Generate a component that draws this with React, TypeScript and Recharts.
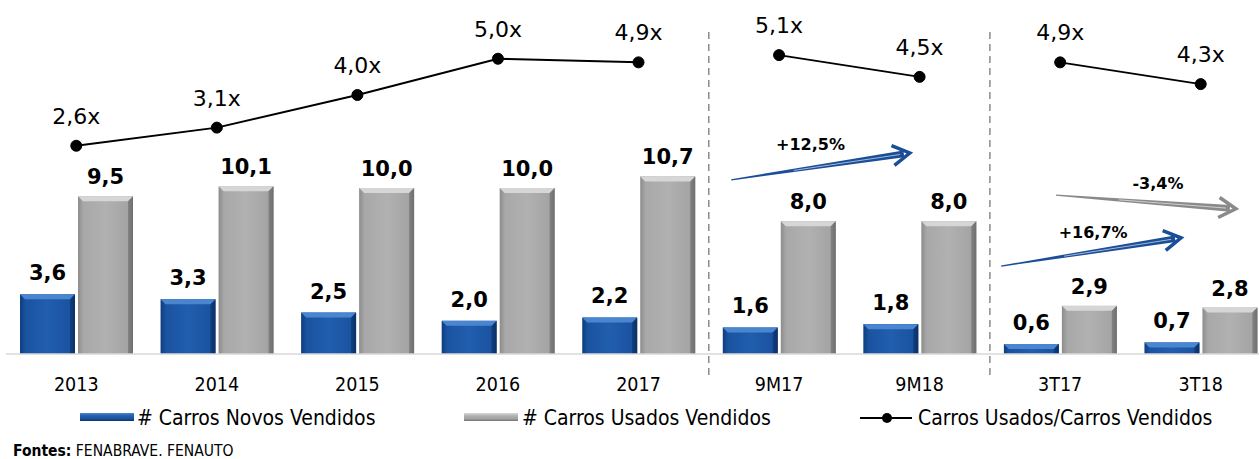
import React from 'react';
import { ComposedChart, Bar, Line, XAxis, YAxis, LabelList, ReferenceLine } from 'recharts';

const periodos = ['2013', '2014', '2015', '2016', '2017', '9M17', '9M18', '3T17', '3T18'];
const grupos = ['ano', 'ano', 'ano', 'ano', 'ano', '9m', '9m', '3t', '3t'];
const carrosNovos = [3.6, 3.3, 2.5, 2.0, 2.2, 1.6, 1.8, 0.6, 0.7];
const carrosUsados = [9.5, 10.1, 10.0, 10.0, 10.7, 8.0, 8.0, 2.9, 2.8];
const usadosPorNovos = [2.6, 3.1, 4.0, 5.0, 4.9, 5.1, 4.5, 4.9, 4.3];

// trend arrows, in units of the helper x axis (0..9) and the ratio axis
const setas = [
  { texto: '+12,5%', cor: 'azul', x1: 5.16, y1: 1.66, x2: 6.43, y2: 2.4, dx: -10, dy: -22 },
  { texto: '-3,4%', cor: 'cinza', x1: 7.47, y1: 1.24, x2: 8.75, y2: 0.86, dx: 12, dy: -19 },
  { texto: '+16,7%', cor: 'azul', x1: 7.08, y1: -0.72, x2: 8.36, y2: 0.06, dx: 2, dy: -20 },
];
const separadores = [5, 7];

const FONT = '"DejaVu Sans Condensed", "DejaVu Sans", sans-serif';
const FONT_WIDE = '"DejaVu Sans", sans-serif';

const data = periodos.map((periodo, i) => ({
  periodo,
  pos: i + 0.5,
  novos: carrosNovos[i],
  usados: carrosUsados[i],
  razaoAno: grupos[i] === 'ano' ? usadosPorNovos[i] : null,
  razao9m: grupos[i] === '9m' ? usadosPorNovos[i] : null,
  razao3t: grupos[i] === '3t' ? usadosPorNovos[i] : null,
}));

const fmt = (v: number) => v.toFixed(1).replace('.', ',');

const PALETA: { [k: string]: { top: string; grad: string; dark: string } } = {
  novos: { top: '#4a86cf', grad: 'url(#gradNovos)', dark: '#0a2f66' },
  usados: { top: '#d6d6d6', grad: 'url(#gradUsados)', dark: '#6a6a6a' },
};

const BevelBar = (props: any) => {
  const { x, y, width, height, serie } = props;
  if (!height || height <= 0) return null;
  const p = PALETA[serie];
  const b = Math.min(5, height / 2);
  return (
    <g>
      <rect x={x} y={y} width={width} height={height} fill={p.grad} />
      <polygon
        points={`${x},${y} ${x + width},${y} ${x + width - b},${y + b} ${x + b},${y + b}`}
        fill={p.top}
      />
      <polygon
        points={`${x + width},${y} ${x + width},${y + height} ${x + width - b},${y + height} ${x + width - b},${y + b}`}
        fill={p.dark}
        opacity={0.55}
      />
    </g>
  );
};

const TrendArrow = (props: any) => {
  const { x1, y1, x2, y2, cor, texto, dx, dy } = props;
  const color = cor === 'azul' ? '#1a4e98' : '#8a8a8a';
  const L = Math.hypot(x2 - x1, y2 - y1);
  const ang = (Math.atan2(y2 - y1, x2 - x1) * 180) / Math.PI;
  const mx = (x1 + x2) / 2;
  const my = (y1 + y2) / 2;
  return (
    <g>
      <g transform={`translate(${x1},${y1}) rotate(${ang})`}>
        <polygon points={`0,-0.6 ${L - 6},-3.4 ${L - 6},3.4 0,0.6`} fill={color} />
        <line x1={L * 0.35} y1={0} x2={L - 10} y2={0} stroke="#fff" strokeWidth={0.8} opacity={0.7} />
        <polyline
          points={`${L - 17},-10 ${L},0 ${L - 17},10`}
          fill="none"
          stroke={color}
          strokeWidth={3.5}
          strokeLinejoin="miter"
        />
      </g>
      <text
        x={mx + dx}
        y={my + dy + 6}
        textAnchor="middle"
        fontFamily={FONT_WIDE}
        fontWeight="bold"
        fontSize={16}
        fill="#000"
      >
        {texto}
      </text>
    </g>
  );
};

const lineDot = { r: 5.5, fill: '#000', stroke: '#000', strokeWidth: 1 };
const razaoLabel = (v: any) => (v == null ? '' : `${fmt(v)}x`);

const legendText: React.CSSProperties = {
  position: 'absolute',
  top: 405,
  fontFamily: FONT,
  fontSize: 21,
  lineHeight: '26px',
  color: '#000',
  whiteSpace: 'nowrap',
};

export default function App() {
  return (
    <div style={{ position: 'absolute', left: 0, top: 0, width: 1259, height: 459, overflow: 'hidden', background: '#fff' }}>
      <ComposedChart
        width={1280}
        height={459}
        data={data}
        margin={{ top: 30, right: 9, left: 6, bottom: 54 }}
        barSize={55}
        barGap={3}
      >
        <defs>
          <linearGradient id="gradNovos" x1="0" y1="0" x2="1" y2="0">
            <stop offset="0%" stopColor="#0f3d7f" />
            <stop offset="10%" stopColor="#1a53a0" />
            <stop offset="50%" stopColor="#215eae" />
            <stop offset="90%" stopColor="#1a53a0" />
            <stop offset="100%" stopColor="#0c336c" />
          </linearGradient>
          <linearGradient id="gradUsados" x1="0" y1="0" x2="1" y2="0">
            <stop offset="0%" stopColor="#8c8c8c" />
            <stop offset="10%" stopColor="#a8a8a8" />
            <stop offset="50%" stopColor="#b1b1b1" />
            <stop offset="90%" stopColor="#a4a4a4" />
            <stop offset="100%" stopColor="#747474" />
          </linearGradient>
        </defs>
        <XAxis
          dataKey="periodo"
          axisLine={false}
          tickLine={false}
          tickSize={0}
          tickMargin={2}
          height={30}
          interval={0}
          tick={{ fontFamily: FONT, fontSize: 19.5, fill: '#000' }}
        />
        <XAxis xAxisId="pos" dataKey="pos" type="number" domain={[0, 9]} allowDataOverflow hide />
        <YAxis yAxisId="vol" type="number" domain={[-1.265, 19.52]} allowDataOverflow hide />
        <YAxis yAxisId="razao" type="number" domain={[-3.724, 5.793]} allowDataOverflow hide />

        <ReferenceLine yAxisId="vol" y={0} stroke="#d9d9d9" strokeWidth={1.5} />
        {separadores.map((s) => (
          <ReferenceLine
            key={s}
            xAxisId="pos"
            yAxisId="vol"
            x={s}
            stroke="#8c8c8c"
            strokeWidth={1.5}
            strokeDasharray="7 5"
          />
        ))}

        <Bar
          yAxisId="vol"
          dataKey="novos"
          name="# Carros Novos Vendidos"
          isAnimationActive={false}
          shape={(p: any) => <BevelBar {...p} serie="novos" />}
        >
          <LabelList
            dataKey="novos"
            position="top"
            offset={14}
            formatter={(v: any) => fmt(v)}
            style={{ fontFamily: FONT_WIDE, fontWeight: 'bold', fontSize: 21, fill: '#000' }}
          />
        </Bar>
        <Bar
          yAxisId="vol"
          dataKey="usados"
          name="# Carros Usados Vendidos"
          isAnimationActive={false}
          shape={(p: any) => <BevelBar {...p} serie="usados" />}
        >
          <LabelList
            dataKey="usados"
            position="top"
            offset={12}
            formatter={(v: any) => fmt(v)}
            style={{ fontFamily: FONT_WIDE, fontWeight: 'bold', fontSize: 21, fill: '#000' }}
          />
        </Bar>

        {['razaoAno', 'razao9m', 'razao3t'].map((k) => (
          <Line
            key={k}
            yAxisId="razao"
            dataKey={k}
            stroke="#000"
            strokeWidth={2}
            dot={lineDot}
            activeDot={false}
            isAnimationActive={false}
            connectNulls={false}
          >
            <LabelList
              dataKey={k}
              position="top"
              offset={22}
              formatter={razaoLabel}
              style={{ fontFamily: FONT_WIDE, fontSize: 22, fill: '#000' }}
            />
          </Line>
        ))}

        {setas.map((a) => (
          <ReferenceLine
            key={a.texto}
            xAxisId="pos"
            yAxisId="razao"
            ifOverflow="visible"
            segment={[
              { x: a.x1, y: a.y1 },
              { x: a.x2, y: a.y2 },
            ]}
            shape={(p: any) => <TrendArrow {...p} cor={a.cor} texto={a.texto} dx={a.dx} dy={a.dy} />}
          />
        ))}
      </ComposedChart>

      {/* legend */}
      <div
        style={{
          position: 'absolute',
          left: 80,
          top: 413,
          width: 54,
          height: 8,
          background: 'linear-gradient(to bottom, #4a86cf 0%, #215eae 35%, #1a53a0 70%, #0c336c 100%)',
        }}
      />
      <div style={{ ...legendText, left: 137 }}># Carros Novos Vendidos</div>
      <div
        style={{
          position: 'absolute',
          left: 464,
          top: 413,
          width: 54,
          height: 8,
          background: 'linear-gradient(to bottom, #dadada 0%, #b1b1b1 35%, #a4a4a4 70%, #747474 100%)',
        }}
      />
      <div style={{ ...legendText, left: 522 }}># Carros Usados Vendidos</div>
      <svg style={{ position: 'absolute', left: 858, top: 408 }} width={56} height={20}>
        <line x1={2} y1={10} x2={54} y2={10} stroke="#000" strokeWidth={2} />
        <circle cx={29} cy={10} r={5} fill="#000" />
      </svg>
      <div style={{ ...legendText, left: 918 }}>Carros Usados/Carros Vendidos</div>

      <div
        style={{
          position: 'absolute',
          left: 13,
          top: 442,
          fontFamily: FONT,
          fontSize: 15.5,
          color: '#000',
          whiteSpace: 'nowrap',
        }}
      >
        <b>Fontes:</b> FENABRAVE. FENAUTO
      </div>
    </div>
  );
}
